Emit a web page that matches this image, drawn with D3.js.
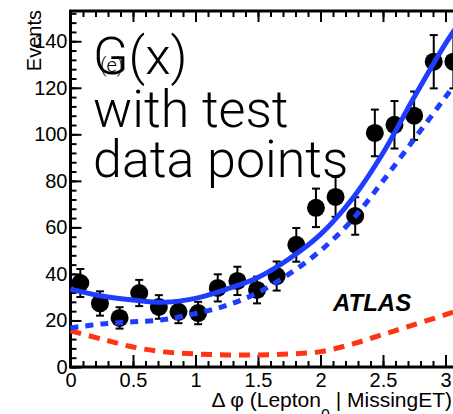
<!DOCTYPE html>
<html><head><meta charset="utf-8">
<script src="https://cdn.jsdelivr.net/npm/d3@7"></script>
<style>html,body{margin:0;padding:0;background:#fff;overflow:hidden}</style>
</head><body>
<svg id="c" width="453" height="414"></svg>
<script>
// ---- data ----
const binCenters = d3.range(20).map(i => (i + 0.5) * Math.PI / 20);
const events = [36.1, 27.3, 21.1, 31.8, 25.8, 23.7, 23.2, 34.0, 37.0, 33.1,
                39.1, 52.5, 68.4, 73.1, 64.9, 100.6, 104.1, 108.0, 131.2, 131.2];
const errors = events.map(v => Math.sqrt(v));
const curveX =      [0, 0.25, 0.5, 0.75, 1.0, 1.25, 1.5, 1.75, 2.0, 2.25, 2.5, 2.75, 3.0, 3.14];
const totalFit =    [33.5, 30.5, 28.8, 27.8, 29.5, 33.5, 38.5, 46.5, 57.0, 72.0, 92.0, 116.0, 139.0, 150.0];
const blueDashed =  [16.8, 18.5, 19.4, 20.4, 23.0, 26.5, 32.0, 40.0, 50.0, 63.0, 80.0, 98.0, 116.0, 126.0];
const redDashed =   [15.5, 12.0, 8.6, 6.5, 5.6, 5.2, 5.2, 5.6, 6.6, 9.8, 14.0, 18.2, 22.5, 25.0];
const xMajorTicks = [0, 0.5, 1, 1.5, 2, 2.5, 3];
const yMajorTicks = [0, 20, 40, 60, 80, 100, 120, 140];
const xTitle = ["\u0394 \u03c6 (Lepton", "0", " | MissingET)"];
const yTitle = "Events";
const bigText = ["G(x)", "with test", "data points"];

// ---- layout ----
const svg = d3.select("#c");
const L = 70.5, T = 11, B = 367;
const x = d3.scaleLinear().domain([0, Math.PI]).range([L, L + 125 * Math.PI]);
const y = d3.scaleLinear().domain([0, 153]).range([B, T]);
const R = x(Math.PI);
const blue = "#1f3dff", red = "#ff3412";
const sans = "Liberation Sans, Arial, sans-serif";

// frame
svg.append("rect").attr("x", L).attr("y", T).attr("width", R - L).attr("height", B - T)
  .attr("fill", "none").attr("stroke", "#000").attr("stroke-width", 3);

const xMinor = d3.range(0, 31.5).map(i => i / 10);
const yMinor = d3.range(0, 153, 4);
// bottom axis ticks (inward)
svg.append("g").attr("transform", `translate(0,${B})`)
  .call(d3.axisBottom(x).tickValues(xMinor).tickSize(-6).tickFormat(""))
  .call(g => g.select(".domain").remove()).selectAll("line").attr("stroke-width", 2);
svg.append("g").attr("transform", `translate(0,${B})`)
  .call(d3.axisBottom(x).tickValues(xMajorTicks).tickSize(-12).tickPadding(6).tickFormat(d3.format("")))
  .call(g => g.select(".domain").remove())
  .call(g => g.selectAll("line").attr("stroke-width", 2))
  .call(g => g.selectAll("text").attr("font-family", sans).attr("font-size", 20).attr("fill", "#000"));
// top axis ticks
svg.append("g").attr("transform", `translate(0,${T})`)
  .call(d3.axisTop(x).tickValues(xMinor).tickSize(-6).tickFormat(""))
  .call(g => g.select(".domain").remove()).selectAll("line").attr("stroke-width", 2);
svg.append("g").attr("transform", `translate(0,${T})`)
  .call(d3.axisTop(x).tickValues(xMajorTicks).tickSize(-11).tickFormat(""))
  .call(g => g.select(".domain").remove()).selectAll("line").attr("stroke-width", 2);
// left axis ticks
svg.append("g").attr("transform", `translate(${L},0)`)
  .call(d3.axisLeft(y).tickValues(yMinor).tickSize(-6).tickFormat(""))
  .call(g => g.select(".domain").remove()).selectAll("line").attr("stroke-width", 2);
svg.append("g").attr("transform", `translate(${L},0)`)
  .call(d3.axisLeft(y).tickValues(yMajorTicks).tickSize(-11).tickPadding(15).tickFormat(d3.format("")))
  .call(g => g.select(".domain").remove())
  .call(g => g.selectAll("line").attr("stroke-width", 2))
  .call(g => g.selectAll("text").attr("font-family", sans).attr("font-size", 20).attr("fill", "#000").attr("x", -3));

// big text
const bt = svg.append("g").attr("font-family", "Roboto, sans-serif").attr("font-weight", 300).attr("font-size", 52).attr("fill", "#000");
const baselines = [74, 127, 177];
bigText.forEach((t, i) => bt.append("text").attr("x", 93).attr("y", baselines[i]).text(t));
svg.append("text").attr("x", 100).attr("y", 72).attr("font-family", "Roboto, sans-serif").attr("font-weight", 300)
  .attr("font-size", 20).attr("fill", "#000").text("(e)");

// ATLAS
svg.append("text").attr("x", 333).attr("y", 311).attr("font-family", sans)
  .attr("font-weight", "bold").attr("font-style", "italic").attr("font-size", 24).attr("fill", "#000").text("ATLAS");

// data points
const pts = svg.append("g");
binCenters.forEach((cx, i) => {
  const v = events[i], e = errors[i];
  pts.append("line").attr("x1", x(cx)).attr("x2", x(cx)).attr("y1", y(v - e)).attr("y2", y(v + e)).attr("stroke", "#000").attr("stroke-width", 2);
  [v - e, v + e].forEach(w => pts.append("line").attr("x1", x(cx) - 4).attr("x2", x(cx) + 4).attr("y1", y(w)).attr("y2", y(w)).attr("stroke", "#000").attr("stroke-width", 2));
  pts.append("circle").attr("cx", x(cx)).attr("cy", y(v)).attr("r", 9).attr("fill", "#000");
});

// curves
const line = vals => d3.line().x((d, i) => x(curveX[i])).y(d => y(d)).curve(d3.curveCatmullRom)(vals);
svg.append("path").attr("d", line(redDashed)).attr("fill", "none").attr("stroke", red).attr("stroke-width", 5).attr("stroke-dasharray", "11,8");
svg.append("path").attr("d", line(blueDashed)).attr("fill", "none").attr("stroke", blue).attr("stroke-width", 5).attr("stroke-dasharray", "8,7");
svg.append("path").attr("d", line(totalFit)).attr("fill", "none").attr("stroke", blue).attr("stroke-width", 5);

// axis titles
svg.append("text").attr("transform", "translate(41,10) rotate(-90)").attr("text-anchor", "end")
  .attr("font-family", sans).attr("font-size", 20).attr("fill", "#000").text(yTitle);
const xt = svg.append("text").attr("x", 452).attr("y", 407).attr("text-anchor", "end")
  .attr("font-family", sans).attr("font-size", 21).attr("fill", "#000");
xt.append("tspan").text(xTitle[0]);
xt.append("tspan").attr("dy", 14).attr("font-size", 16).text(xTitle[1]);
xt.append("tspan").attr("dy", -14).text(xTitle[2]);
</script>
</body></html>
